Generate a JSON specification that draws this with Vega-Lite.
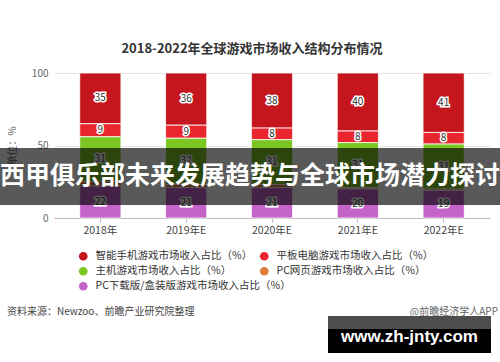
{
  "$schema": "https://vega.github.io/schema/vega-lite/v6.json",
  "width": 436,
  "height": 145,
  "autosize": {"type": "none"},
  "padding": {"left": 54, "top": 73, "right": 10, "bottom": 144},
  "background": "white",
  "config": {"font": "Noto Sans CJK SC", "view": {"stroke": null}},
  "title": {"text": "2018-2022年全球游戏市场收入结构分布情况", "fontSize": 13, "fontWeight": "bold", "color": "#333333", "anchor": "middle", "dx": -20, "offset": 12},
  "layer": [
    {
      "data": {"values": [
        {"year": "2018年", "type": "智能手机游戏市场收入占比（%）", "value": 35},
        {"year": "2018年", "type": "平板电脑游戏市场收入占比（%）", "value": 9},
        {"year": "2018年", "type": "主机游戏市场收入占比（%）", "value": 31},
        {"year": "2018年", "type": "PC网页游戏市场收入占比（%）", "value": 3},
        {"year": "2018年", "type": "PC下载版/盒装版游戏市场收入占比（%）", "value": 22},
        {"year": "2019年E", "type": "智能手机游戏市场收入占比（%）", "value": 36},
        {"year": "2019年E", "type": "平板电脑游戏市场收入占比（%）", "value": 9},
        {"year": "2019年E", "type": "主机游戏市场收入占比（%）", "value": 32},
        {"year": "2019年E", "type": "PC网页游戏市场收入占比（%）", "value": 2},
        {"year": "2019年E", "type": "PC下载版/盒装版游戏市场收入占比（%）", "value": 21},
        {"year": "2020年E", "type": "智能手机游戏市场收入占比（%）", "value": 38},
        {"year": "2020年E", "type": "平板电脑游戏市场收入占比（%）", "value": 8},
        {"year": "2020年E", "type": "主机游戏市场收入占比（%）", "value": 31},
        {"year": "2020年E", "type": "PC网页游戏市场收入占比（%）", "value": 2},
        {"year": "2020年E", "type": "PC下载版/盒装版游戏市场收入占比（%）", "value": 21},
        {"year": "2021年E", "type": "智能手机游戏市场收入占比（%）", "value": 40},
        {"year": "2021年E", "type": "平板电脑游戏市场收入占比（%）", "value": 8},
        {"year": "2021年E", "type": "主机游戏市场收入占比（%）", "value": 31},
        {"year": "2021年E", "type": "PC网页游戏市场收入占比（%）", "value": 1},
        {"year": "2021年E", "type": "PC下载版/盒装版游戏市场收入占比（%）", "value": 20},
        {"year": "2022年E", "type": "智能手机游戏市场收入占比（%）", "value": 41},
        {"year": "2022年E", "type": "平板电脑游戏市场收入占比（%）", "value": 8},
        {"year": "2022年E", "type": "主机游戏市场收入占比（%）", "value": 31},
        {"year": "2022年E", "type": "PC网页游戏市场收入占比（%）", "value": 1},
        {"year": "2022年E", "type": "PC下载版/盒装版游戏市场收入占比（%）", "value": 19}
      ]},
      "transform": [
        {"calculate": "indexof(['PC下载版/盒装版游戏市场收入占比（%）','PC网页游戏市场收入占比（%）','主机游戏市场收入占比（%）','平板电脑游戏市场收入占比（%）','智能手机游戏市场收入占比（%）'], datum.type)", "as": "ord"},
        {"stack": "value", "groupby": ["year"], "sort": [{"field": "ord", "order": "ascending"}], "as": ["v0", "v1"]},
        {"calculate": "(datum.v0 + datum.v1) / 2", "as": "mid"}
      ],
      "encoding": {
        "x": {"field": "year", "type": "nominal", "sort": null,
          "scale": {"paddingInner": 0.52, "paddingOuter": 0.3},
          "axis": {"title": null, "labelAngle": 0, "labelFontSize": 10.5, "labelColor": "#444444", "labelFont": "Noto Sans CJK SC", "domainColor": "#bbbbbb", "tickColor": "#bbbbbb", "tickSize": 4, "labelPadding": 3}}
      },
      "layer": [
        {
          "mark": {"type": "bar", "stroke": "#ffffff", "strokeWidth": 0.8},
          "encoding": {
            "y": {"field": "v0", "type": "quantitative", "scale": {"domain": [0, 100]},
              "axis": {"values": [0, 50, 100], "title": "单位：%", "titleFontSize": 10, "titleFontWeight": "normal", "titleColor": "#666666", "titlePadding": 14, "labelFontSize": 10, "labelColor": "#666666", "labelPadding": 6, "domain": false, "ticks": false, "gridColor": "#e3e3e3"}},
            "y2": {"field": "v1"},
            "color": {"field": "type", "type": "nominal",
              "scale": {"domain": ["智能手机游戏市场收入占比（%）", "平板电脑游戏市场收入占比（%）", "主机游戏市场收入占比（%）", "PC网页游戏市场收入占比（%）", "PC下载版/盒装版游戏市场收入占比（%）"],
                "range": ["#c4161c", "#e9262e", "#7cc623", "#e07b39", "#c463c8"]},
              "legend": {"title": null, "orient": "none", "legendX": 24, "legendY": 178, "direction": "horizontal", "columns": 2, "gridAlign": "none", "columnPadding": -32, "rowPadding": 4, "symbolType": "circle", "symbolSize": 75, "symbolStrokeWidth": 0, "labelFontSize": 10.5, "labelColor": "#333333", "labelOffset": 7, "labelLimit": 300}}
          }
        },
        {
          "transform": [{"filter": "datum.ord != 1"}],
          "mark": {"type": "text", "fontSize": 10, "stroke": "#ffffff", "strokeWidth": 3, "fill": "#ffffff", "baseline": "middle"},
          "encoding": {"y": {"field": "mid", "type": "quantitative"}, "text": {"field": "value", "type": "quantitative"}}
        },
        {
          "transform": [{"filter": "datum.ord != 1"}],
          "mark": {"type": "text", "fontSize": 10, "fill": "#333333", "baseline": "middle"},
          "encoding": {"y": {"field": "mid", "type": "quantitative"}, "text": {"field": "value", "type": "quantitative"}}
        }
      ]
    },
    {
      "data": {"values": [{}]},
      "mark": {"type": "rect", "color": "#000000", "opacity": 0.65},
      "encoding": {"x": {"value": -60}, "x2": {"value": 450}, "y": {"datum": 48.3}, "y2": {"datum": 9.0}}
    },
    {
      "data": {"values": [{}]},
      "mark": {"type": "text", "text": "西甲俱乐部未来发展趋势与全球市场潜力探讨", "fontSize": 25, "fontWeight": "bold", "color": "#ffffff", "align": "center", "baseline": "middle", "dx": -22},
      "encoding": {"x": {"datum": "2020年E"}, "y": {"datum": 29}}
    },
    {
      "data": {"values": [{}]},
      "mark": {"type": "text", "text": "资料来源：Newzoo、前瞻产业研究院整理", "fontSize": 10, "color": "#444444", "align": "left", "baseline": "middle"},
      "encoding": {"x": {"value": -47}, "y": {"datum": -64.5}}
    },
    {
      "data": {"values": [{}]},
      "mark": {"type": "text", "text": "@前瞻经济学人APP", "fontSize": 10, "color": "#666666", "align": "right", "baseline": "middle"},
      "encoding": {"x": {"value": 444}, "y": {"datum": -64.5}}
    },
    {
      "data": {"values": [{}]},
      "mark": {"type": "rect", "color": "#000000"},
      "encoding": {"x": {"value": 274}, "x2": {"value": 437}, "y": {"datum": -67.6}, "y2": {"datum": -93.1}}
    },
    {
      "data": {"values": [{}]},
      "mark": {"type": "rect", "color": "#4d4d4d"},
      "encoding": {"x": {"value": 274}, "x2": {"value": 437}, "y": {"datum": -67.6}, "y2": {"datum": -76.5}}
    },
    {
      "data": {"values": [{}]},
      "mark": {"type": "text", "text": "www.zh-jnty.com", "font": "Liberation Sans", "fontSize": 17, "fontWeight": "bold", "color": "#ffffff", "align": "center", "baseline": "middle"},
      "encoding": {"x": {"value": 355.5}, "y": {"datum": -82}}
    }
  ]
}
